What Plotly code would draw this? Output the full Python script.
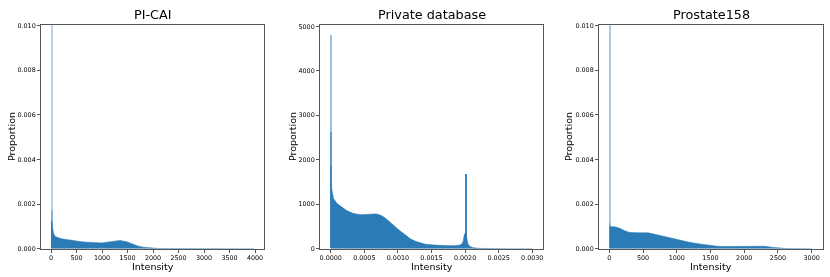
import plotly.graph_objects as go

# ---------------- data ----------------
titles = ["PI-CAI", "Private database", "Prostate158"]

# PI-CAI density curve
pical_x = [0, 10, 20, 30, 50, 80, 120, 200, 300, 400, 500, 600, 700, 800, 900, 1000,
           1100, 1200, 1300, 1350, 1400, 1500, 1600, 1700, 1800, 1900, 2000, 2100,
           2300, 2600, 3000, 3500, 3980]
pical_y = [0.00128, 0.00125, 0.00118, 0.00095, 0.00068, 0.00056, 0.00051, 0.00045,
           0.00041, 0.00037, 0.00034, 0.00031, 0.00029, 0.00027, 0.00026, 0.00026,
           0.00029, 0.00033, 0.00036, 0.00037, 0.00035, 0.00030, 0.00021, 0.00012,
           0.00007, 0.00004, 0.00002, 0.00001, 0.000006, 0.000004, 0.000003,
           0.000002, 0.000001]
pical_spike_x = [0, 0]
pical_spike_y = [0.0125, 0.0017]

# Private database density curve
priv_x = [0.0, 0.00002, 0.00004, 0.00009, 0.00014, 0.00024, 0.00034, 0.00044, 0.00052,
          0.00060, 0.00066, 0.00070, 0.00076, 0.00082, 0.00088, 0.00094, 0.00100,
          0.00106, 0.00112, 0.00119, 0.00127, 0.00134, 0.00141, 0.00149, 0.00158,
          0.00168, 0.00179, 0.00188, 0.00194, 0.00197, 0.00199, 0.00201, 0.00204,
          0.00207, 0.00212, 0.00220, 0.00240, 0.00270, 0.00300]
priv_y = [1460, 1250, 1130, 1020, 963, 853, 790, 766, 770, 780, 781, 775, 740, 680,
          610, 520, 440, 370, 290, 219, 160, 125, 100, 88, 76, 70, 66, 70, 90, 150,
          330, 360, 120, 52, 22, 8, 3, 1, 0]
priv_spike_x = [0.0, 0.0, 0.0, 0.002]
priv_spike_y = [4790, 2626, 1860, 1680]

# Prostate158 density curve
p158_x = [0, 20, 80, 154, 228, 303, 426, 574, 723, 871, 1019, 1167, 1315, 1464, 1600,
          1700, 1850, 2000, 2200, 2300, 2400, 2500, 2600, 2700, 2850, 3000]
p158_y = [0.00100, 0.00098, 0.00098, 0.00092, 0.00080, 0.00073, 0.00071, 0.00071,
          0.00061, 0.00050, 0.00039, 0.00030, 0.00022, 0.00015, 0.00011, 0.00010,
          0.00010, 0.00010, 0.00013, 0.00011, 0.00007, 0.00003, 0.00001, 0.000005,
          0.000002, 0.000001]
p158_spike_x = [0, 0]
p158_spike_y = [0.0125, 0.00112]

x_ticks = [[0, 500, 1000, 1500, 2000, 2500, 3000, 3500, 4000],
           [0.0, 0.0005, 0.0010, 0.0015, 0.0020, 0.0025, 0.0030],
           [0, 500, 1000, 1500, 2000, 2500, 3000]]
y_ticks = [[0.0, 0.002, 0.004, 0.006, 0.008, 0.010],
           [0, 1000, 2000, 3000, 4000, 5000],
           [0.0, 0.002, 0.004, 0.006, 0.008, 0.010]]

# ---------------- layout geometry ----------------
W, H = 830, 277
px_dom = [(41, 264), (320, 543), (599, 823)]
y_top, y_bot = 22, 252
x_ranges = [[-196, 4176], [-0.00016, 0.00316], [-153, 3168]]
y_ranges = [[0, 0.010], [0, 5020], [0, 0.010]]
x_fmt = ["d", ".4f", "d"]
y_fmt = [".3f", "d", ".3f"]
spike_w = [20, 0.000015, 15]
ylab_x = [11, 292, 568]

BLUE = "#2a7bb6"
spike_colors = [["#b9d2e8", "#8ab4d9"],
                ["#9cc2e2", "#5c9bcc", "#3f89c2", "#3a86c0"],
                ["#a9c8e3", "#8ab4d9"]]

series = [(pical_x, pical_y, pical_spike_x, pical_spike_y),
          (priv_x, priv_y, priv_spike_x, priv_spike_y),
          (p158_x, p158_y, p158_spike_x, p158_spike_y)]

fig = go.Figure()
font = "DejaVu Sans"
annotations = []
for i, (ax_x, ax_y, sx, sy) in enumerate(series):
    xa = "x" if i == 0 else f"x{i+1}"
    ya = "y" if i == 0 else f"y{i+1}"
    # spikes drawn as very narrow bars
    for k, (xv, yv) in enumerate(zip(sx, sy)):
        fig.add_trace(go.Bar(x=[xv], y=[yv], width=spike_w[i], marker_color=spike_colors[i][k],
                             marker_line_width=0, xaxis=xa, yaxis=ya, showlegend=False,
                             offset=0))
    fig.add_trace(go.Scatter(x=ax_x, y=ax_y, mode="lines", fill="tozeroy",
                             fillcolor=BLUE, line=dict(color=BLUE, width=0.6),
                             xaxis=xa, yaxis=ya, showlegend=False))
    l, r = px_dom[i]
    dom_x = [l / W, r / W]
    dom_y = [(H - y_bot) / H, (H - y_top) / H]
    axis_common = dict(showline=True, linecolor="#555", linewidth=1, mirror=True,
                       ticks="outside", ticklen=3, tickwidth=1, tickcolor="#555",
                       showgrid=False, zeroline=False,
                       tickfont=dict(family=font, size=6.4, color="#000"))
    fig.layout[("xaxis" if i == 0 else f"xaxis{i+1}")] = dict(
        domain=dom_x, range=x_ranges[i], tickvals=x_ticks[i], tickformat=x_fmt[i],
        anchor=ya, **axis_common)
    fig.layout[("yaxis" if i == 0 else f"yaxis{i+1}")] = dict(
        domain=dom_y, range=y_ranges[i], tickvals=y_ticks[i], tickformat=y_fmt[i],
        anchor=xa, **axis_common)
    cx = (l + r) / 2 / W
    annotations.append(dict(text=titles[i], x=cx, y=(H - 11) / H, xref="paper", yref="paper",
                            showarrow=False, font=dict(family=font, size=12.8, color="#000"),
                            xanchor="center", yanchor="middle"))
    annotations.append(dict(text="Intensity", x=cx, y=0, xref="paper", yref="paper",
                            showarrow=False, font=dict(family=font, size=9.5, color="#000"),
                            xanchor="center", yanchor="bottom", borderpad=0))
    annotations.append(dict(text="Proportion", x=ylab_x[i] / W, y=(H - 137) / H, xref="paper",
                            yref="paper", showarrow=False, textangle=-90,
                            font=dict(family=font, size=9.5, color="#000"),
                            xanchor="center", yanchor="middle"))

fig.update_layout(width=W, height=H, margin=dict(l=0, r=0, t=0, b=0),
                  paper_bgcolor="white", plot_bgcolor="white", barmode="overlay",
                  bargap=0, annotations=annotations)
post = ("document.body.style.margin='0';"
        "document.querySelectorAll('.main-svg').forEach(function(s){s.style.willChange='transform';});")
fig.write_html("out.html", config={"displayModeBar": False}, post_script=post)
